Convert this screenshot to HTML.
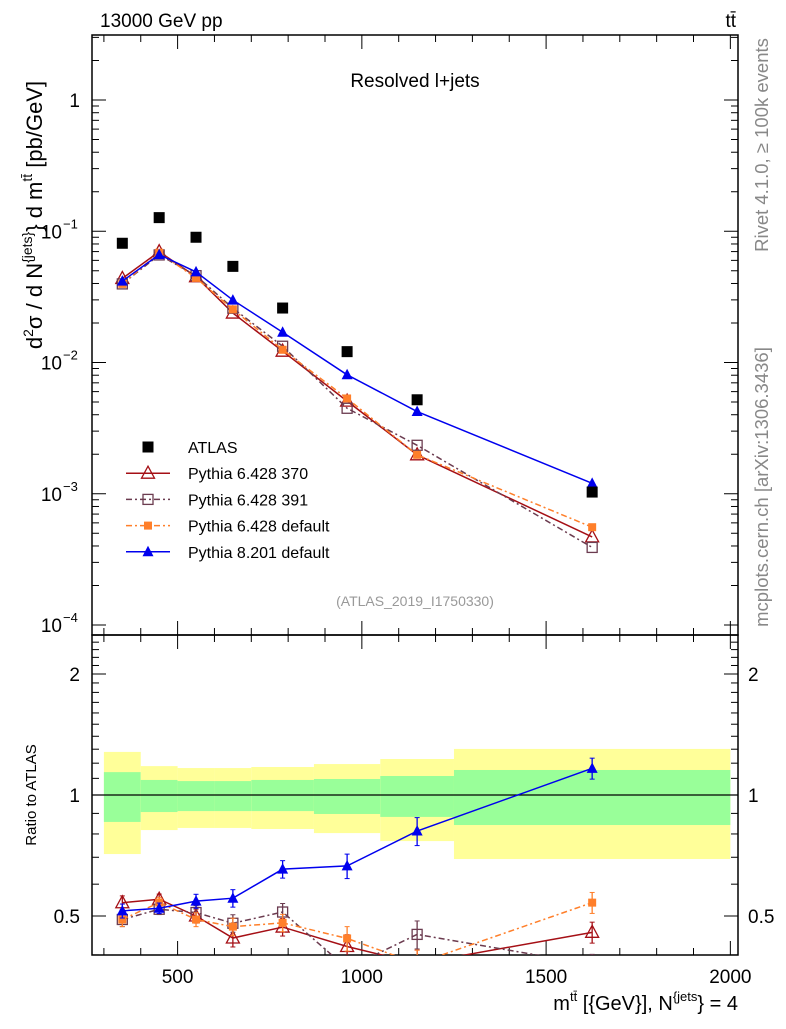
<!DOCTYPE html>
<html><head><meta charset="utf-8"><style>
body{margin:0;background:#fff;}
svg text{font-family:"Liberation Sans",sans-serif;}
</style></head><body>
<svg id="c" width="786" height="1024" xmlns="http://www.w3.org/2000/svg"></svg>
<script>
const bins=[300,400,500,600,700,870,1050,1250,2000];
const xs=[350,450,550,650,785,960,1150,1625];
const atlas=[0.081,0.127,0.090,0.054,0.026,0.0121,0.0052,0.00103];
const p370=[0.0437,0.0699,0.045,0.0238,0.0122,0.00508,0.00198,0.000469];
const p391=[0.0397,0.0660,0.0459,0.0259,0.0133,0.00448,0.00234,0.00039];
const pdef=[0.0397,0.0686,0.0441,0.0254,0.0125,0.00532,0.00198,0.000556];
const p8=[0.0417,0.0664,0.049,0.0299,0.0170,0.00806,0.00423,0.00120];
const bandYHi=[1.28,1.18,1.167,1.167,1.174,1.194,1.229,1.302];
const bandGHi=[1.14,1.09,1.083,1.083,1.09,1.096,1.115,1.154];
const bandGLo=[0.857,0.907,0.912,0.912,0.912,0.897,0.882,0.842];
const bandYLo=[0.713,0.818,0.828,0.828,0.823,0.804,0.768,0.693];
const relErr=[0.04,0.03,0.04,0.05,0.05,0.07,0.08,0.06];
const xTicks=[500,1000,1500,2000];

const NS="http://www.w3.org/2000/svg";
const svg=document.getElementById('c');
const L=92,R=738,T=35,MB=635,RB=955;
const X=v=>177.6+(v-500)*0.3685;
const Y=v=>100-131.25*Math.log10(v);
const YR=r=>795-121*Math.log2(r);
function el(t,a,p){const e=document.createElementNS(NS,t);for(const k in a)e.setAttribute(k,a[k]);(p||svg).appendChild(e);return e;}
function txt(s,a,name){const e=el('text',a);e.textContent=s;


return e;}

const defs=el('defs',{});
const c1=el('clipPath',{id:'cm'},defs);el('rect',{x:L,y:T,width:R-L,height:MB-T},c1);
const c2=el('clipPath',{id:'cr'},defs);el('rect',{x:L,y:MB,width:R-L,height:RB-MB},c2);

const gB=el('g',{'clip-path':'url(#cr)'});


for(let i=0;i<bins.length-1;i++){
  const x0=X(bins[i]),x1=X(bins[i+1]);
  const y=el('rect',{x:x0,y:YR(bandYHi[i]),width:x1-x0,height:YR(bandYLo[i])-YR(bandYHi[i]),fill:'#ffff99'},gB);
  
  
  const g=el('rect',{x:x0,y:YR(bandGHi[i]),width:x1-x0,height:YR(bandGLo[i])-YR(bandGHi[i]),fill:'#99ff99'},gB);
  
  
}
el('line',{x1:L,x2:R,y1:YR(1),y2:YR(1),stroke:'#000','stroke-width':1.2});

for(const [y0,y1,n] of [[T,MB,'main-frame'],[MB,RB,'ratio-frame']]){
  const f=el('rect',{x:L,y:y0,width:R-L,height:y1-y0,fill:'none',stroke:'#000','stroke-width':1.5});
  
  
}
for(let v=300;v<=2000;v+=100){
  const x=X(v),maj=v%500===0,l=maj?14:7;
  for(const [yb,dir] of [[T,1],[MB,-1],[MB,1],[RB,-1]])
    el('line',{x1:x,x2:x,y1:yb,y2:yb+dir*l,stroke:'#000','stroke-width':1});
}
xTicks.forEach(v=>txt(String(v),{x:X(v),y:983,'font-size':19,'text-anchor':'middle'},'x-tick-label'));
for(let e=-4;e<=0;e++){
  for(let m=1;m<10;m++){
    const v=m*Math.pow(10,e),y=Y(v);if(y<T)continue;
    const l=m===1?14:7;
    el('line',{x1:L,x2:L+l,y1:y,y2:y,stroke:'#000'});el('line',{x1:R,x2:R-l,y1:y,y2:y,stroke:'#000'});
  }
}
txt('1',{x:80,y:107,'font-size':19,'text-anchor':'end'},'y-tick-label');
[-1,-2,-3,-4].forEach(e=>{txt('10',{x:62,y:Y(Math.pow(10,e))+7,'font-size':19,'text-anchor':'end'},'y-tick-label');
 txt(String(e).replace('-','−'),{x:63,y:Y(Math.pow(10,e))-3,'font-size':13},'y-tick-exponent');});
for(let k=4;k<=25;k++){const r=k/10,y=YR(r);if(y<MB||y>RB)continue;
 const maj=(k===5||k===10||k===20),l=maj?14:7;
 el('line',{x1:L,x2:L+l,y1:y,y2:y,stroke:'#000'});el('line',{x1:R,x2:R-l,y1:y,y2:y,stroke:'#000'});}
[[2,'2'],[1,'1'],[0.5,'0.5']].forEach(([r,s])=>{
 txt(s,{x:80,y:YR(r)+7,'font-size':19,'text-anchor':'end'},'ratio-tick-label');
 txt(s,{x:748,y:YR(r)+7,'font-size':19},'ratio-tick-label-right');});

const series=[
 {d:p370,c:'#a50f15',dash:'',m:'otri',n:'pythia-6428-370'},
 {d:p391,c:'#6b3b4f',dash:'6,3,2,3',m:'osq',n:'pythia-6428-391'},
 {d:pdef,c:'#ff7f2a',dash:'6,3,2,3',m:'fsq',n:'pythia-6428-default'},
 {d:p8,c:'#0000ee',dash:'',m:'ftri',n:'pythia-8201-default'}];
function marker(g,type,x,y,c,s){
 let e;
 if(type==='otri')e=el('path',{d:`M${x},${y-7}L${x+6.5},${y+5}L${x-6.5},${y+5}Z`,fill:'none',stroke:c,'stroke-width':1.3},g);
 else if(type==='ftri')e=el('path',{d:`M${x},${y-6}L${x+5.5},${y+4.5}L${x-5.5},${y+4.5}Z`,fill:c},g);
 else if(type==='osq')e=el('rect',{x:x-5,y:y-5,width:10,height:10,fill:'none',stroke:c,'stroke-width':1.3},g);
 else if(type==='fsq')e=el('rect',{x:x-4,y:y-4,width:8,height:8,fill:c},g);
 else e=el('rect',{x:x-5.5,y:y-5.5,width:11,height:11,fill:c},g);
 
 
}
series.forEach(s=>{
 const g=el('g',{'clip-path':'url(#cm)'});
 
 
 el('polyline',{points:xs.map((x,i)=>X(x)+','+Y(s.d[i])).join(' '),fill:'none',stroke:s.c,'stroke-width':1.5,'stroke-dasharray':s.dash},g);
 xs.forEach((x,i)=>marker(g,s.m,X(x),Y(s.d[i]),s.c,'marker'));
 const g2=el('g',{'clip-path':'url(#cr)'});
 
 
 const rr=xs.map((x,i)=>s.d[i]/atlas[i]);
 el('polyline',{points:xs.map((x,i)=>X(x)+','+YR(rr[i])).join(' '),fill:'none',stroke:s.c,'stroke-width':1.5,'stroke-dasharray':s.dash},g2);
 xs.forEach((x,i)=>{const r=rr[i],e=relErr[i]*r,xx=X(x);
  el('line',{x1:xx,x2:xx,y1:YR(r+e),y2:YR(r-e),stroke:s.c,'stroke-width':1.3},g2);
  el('line',{x1:xx-2.5,x2:xx+2.5,y1:YR(r+e),y2:YR(r+e),stroke:s.c},g2);
  el('line',{x1:xx-2.5,x2:xx+2.5,y1:YR(r-e),y2:YR(r-e),stroke:s.c},g2);
  marker(g2,s.m,xx,YR(r),s.c,'ratio-marker');});
});
const ga=el('g',{});


xs.forEach((x,i)=>marker(ga,'data',X(x),Y(atlas[i]),'#000','atlas-point'));

const leg=[['ATLAS','#000','data',''],['Pythia 6.428 370','#a50f15','otri',''],['Pythia 6.428 391','#6b3b4f','osq','6,3,2,3'],['Pythia 6.428 default','#ff7f2a','fsq','6,3,2,3'],['Pythia 8.201 default','#0000ee','ftri','']];
const gl=el('g',{});


leg.forEach((l,i)=>{const y=447+i*26.2;
 if(i>0)el('line',{x1:126,x2:170,y1:y,y2:y,stroke:l[1],'stroke-width':1.5,'stroke-dasharray':l[3]},gl);
 marker(gl,l[2],148,y,l[1],'legend-marker');
 txt(l[0],{x:188,y:y+6,'font-size':16},'legend-entry');});

txt('13000 GeV pp',{x:100,y:27,'font-size':19},'energy-label');
txt('tt̄',{x:736,y:27,'font-size':19,'text-anchor':'end'},'process-label');
txt('Resolved l+jets',{x:415,y:87,'font-size':19,'text-anchor':'middle'},'plot-title');
txt('(ATLAS_2019_I1750330)',{x:415,y:606,'font-size':14,'text-anchor':'middle',fill:'#999'},'analysis-id');
txt('Rivet 4.1.0, ≥ 100k events',{x:0,y:0,'font-size':18.5,'text-anchor':'middle',fill:'#888',transform:'translate(768,145) rotate(-90)'},'rivet-label');
txt('mcplots.cern.ch [arXiv:1306.3436]',{x:0,y:0,'font-size':18.5,'text-anchor':'middle',fill:'#888',transform:'translate(768,487) rotate(-90)'},'mcplots-label');
const yt=el('text',{transform:'translate(42,215) rotate(-90)','font-size':22,'text-anchor':'middle'});


yt.innerHTML='d<tspan dy="-9" font-size="14">2</tspan><tspan dy="9">σ  /  d N</tspan><tspan dy="-10" font-size="14">{jets}</tspan><tspan dy="10">} d m</tspan><tspan dy="-10" font-size="14">tt̄</tspan><tspan dy="10"> [pb/GeV]</tspan>';
txt('Ratio to ATLAS',{x:0,y:0,'font-size':15,'text-anchor':'middle',transform:'translate(36,795) rotate(-90)'},'ratio-axis-title');
const xt=el('text',{x:738,y:1010,'font-size':20,'text-anchor':'end'});


xt.innerHTML='m<tspan dy="-9" font-size="13">tt̄</tspan><tspan dy="9"> [{GeV}], N</tspan><tspan dy="-9" font-size="13">{jets</tspan><tspan dy="9">} = 4</tspan>';
</script>
</body></html>
